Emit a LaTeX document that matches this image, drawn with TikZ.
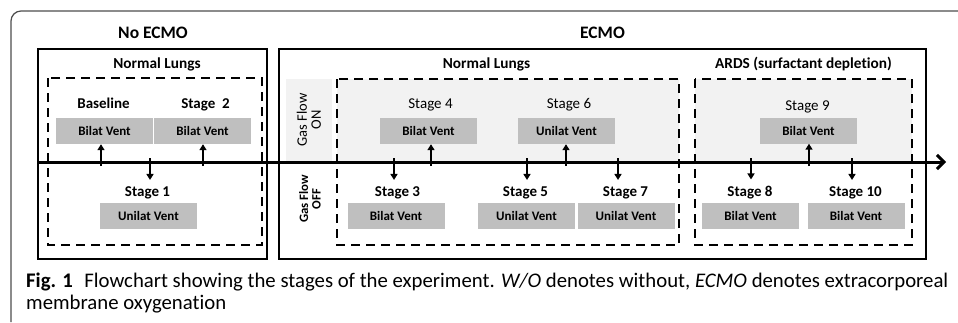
\documentclass[tikz,border=0pt]{standalone}
\usepackage{fontspec}
\setmainfont[Ligatures=NoCommon]{Carlito}
\newfontfamily\capfont[Ligatures=NoCommon]{Carlito}
\usetikzlibrary{arrows.meta}
\definecolor{boxgray}{HTML}{BFBFBF}
\definecolor{panelgray}{HTML}{F2F2F2}
\definecolor{framegray}{HTML}{4D4D4D}
\newlength\capw
\newcommand\capline{\textbf{Fig. 1}\hspace{0.55em}Flowchart showing the stages of the experiment. \textit{W/O} denotes without, \textit{ECMO} denotes extracorporeal}
\begin{document}
\settowidth\capw{\capfont\fontsize{10}{12}\selectfont\capline}%
\pgfmathsetmacro\capsz{max(8,min(24,10*(922/(\capw+0.001pt))))}%
\begin{tikzpicture}[x=1pt,y=-1pt,
  titletext/.style={font=\bfseries\fontsize{17.5}{20}\selectfont, anchor=base, inner sep=0pt},
  subtitle/.style={font=\bfseries\fontsize{15.3}{18}\selectfont, anchor=base, inner sep=0pt},
  stagereg/.style={font=\fontsize{15}{18}\selectfont, anchor=base, inner sep=0pt},
  stagebold/.style={font=\bfseries\fontsize{15}{18}\selectfont, anchor=base, inner sep=0pt},
  vent/.style={fill=boxgray, font=\bfseries\fontsize{13}{15}\selectfont, minimum width=97pt, minimum height=26pt, inner sep=0pt},
  solidbox/.style={draw=black, line width=2pt},
  dashbox/.style={draw=black, line width=2pt, dash pattern=on 9pt off 6pt},
  uparrow/.style={line width=2pt, -{Triangle[length=6pt,width=7pt]}},
  downarrow/.style={line width=2pt, -{Triangle[length=6pt,width=7pt]}, shorten >=6pt},
  gasreg/.style={font=\fontsize{14.5}{14}\selectfont, align=center, rotate=90, inner sep=0pt},
  gasbold/.style={font=\bfseries\fontsize{12.8}{12.5}\selectfont, align=center, rotate=90, inner sep=0pt},
  captext/.style={anchor=base west, inner sep=0pt}
]
\useasboundingbox (0,0) rectangle (958,322);
% outer frame
\draw[framegray, line width=1.2pt, rounded corners=10pt] (11,322) -- (11,11) -- (958,11);

% light panels
\fill[panelgray] (286,79) rectangle (332,162);
\fill[panelgray] (337,79) rectangle (679,162);
\fill[panelgray] (695,79) rectangle (912,162);

% solid section boxes
\draw[solidbox] (38,49) rectangle (267,259);
\draw[solidbox] (279,49) rectangle (926,259);
% dashed boxes
\draw[dashbox] (48,78) rectangle (262,245);
\draw[dashbox] (337,79) rectangle (679,245);
\draw[dashbox] (695,79) rectangle (912,245);

% titles
\node[titletext] (tno) at (153,38) {No ECMO};
\node[titletext] (tecmo) at (602.5,38) {ECMO};
\node[subtitle] (nl1) at (157,68) {Normal Lungs};
\node[subtitle] (nl2) at (486.5,68) {Normal Lungs};
\node[subtitle] (ards) at (803.5,68) {ARDS (surfactant deplet\kern0pt ion)};

% gas flow labels
\node[gasreg] (gon) at (309,120) {Gas Flow\\ON};
\node[gasbold] (goff) at (310,199) {Gas Flow\\OFF};

% stage labels
\node[stagebold] (lb) at (103.5,108) {Baseline};
\node[stagebold] (l2) at (205.5,108) {Stage\ \ 2};
\node[stagebold] (l1) at (147.5,196) {Stage 1};
\node[stagereg] (l4) at (430.5,108) {Stage 4};
\node[stagereg] (l6) at (569,108) {Stage 6};
\node[stagereg] (l9) at (807.5,110) {Stage 9};
\node[stagebold] (l3) at (397.5,196) {Stage 3};
\node[stagebold] (l5) at (525.5,196) {Stage 5};
\node[stagebold] (l7) at (625.5,196) {Stage 7};
\node[stagebold] (l8) at (750,196) {Stage 8};
\node[stagebold] (l10) at (855.5,196) {Stage 10};

% vent boxes
\node[vent] (bb) at (104.5,131) {Bilat Vent};
\node[vent] (b2) at (202.5,131) {Bilat Vent};
\node[vent] (b1) at (148.5,216) {Unilat Vent};
\node[vent] (b4) at (428.5,131) {Bilat Vent};
\node[vent] (b6) at (566.5,131) {Unilat Vent};
\node[vent] (b9) at (808.5,130.5) {Bilat Vent};
\node[vent] (b3) at (396,216) {Bilat Vent};
\node[vent] (b5) at (526.5,216) {Unilat Vent};
\node[vent] (b7) at (626,216) {Unilat Vent};
\node[vent] (b8) at (750.5,216) {Bilat Vent};
\node[vent] (b10) at (856,216) {Bilat Vent};

% timeline axis
\coordinate (axs) at (37,162);
\coordinate (axe) at (946,162);
\draw[line width=3pt, -{Straight Barb[length=7pt,width=14pt]}] (axs) -- (axe);

% up arrows
\coordinate (ub) at (101,166);
\coordinate (u2) at (203,166);
\coordinate (u4) at (431,166);
\coordinate (u6) at (566,166);
\coordinate (u9) at (809,166);
\draw[uparrow] (ub) -- (ub |- bb.south);
\draw[uparrow] (u2) -- (u2 |- b2.south);
\draw[uparrow] (u4) -- (u4 |- b4.south);
\draw[uparrow] (u6) -- (u6 |- b6.south);
\draw[uparrow] (u9) -- (u9 |- b9.south);

% down arrows
\coordinate (d1) at (150,158);
\coordinate (d3) at (394,158);
\coordinate (d5) at (527,158);
\coordinate (d7) at (618,158);
\coordinate (d8) at (751,158);
\coordinate (d10) at (852,158);
\draw[downarrow] (d1) -- (d1 |- l1.north);
\draw[downarrow] (d3) -- (d3 |- l3.north);
\draw[downarrow] (d5) -- (d5 |- l5.north);
\draw[downarrow] (d7) -- (d7 |- l7.north);
\draw[downarrow] (d8) -- (d8 |- l8.north);
\draw[downarrow] (d10) -- (d10 |- l10.north);

% caption
\node[captext, font=\capfont\fontsize{\capsz}{\capsz}\selectfont] (cap1) at (26,287) {\capline};
\node[captext, font=\capfont\fontsize{\capsz}{\capsz}\selectfont] (cap2) at (26,309) {membrane oxygenat\kern0pt ion};
\end{tikzpicture}
\end{document}
